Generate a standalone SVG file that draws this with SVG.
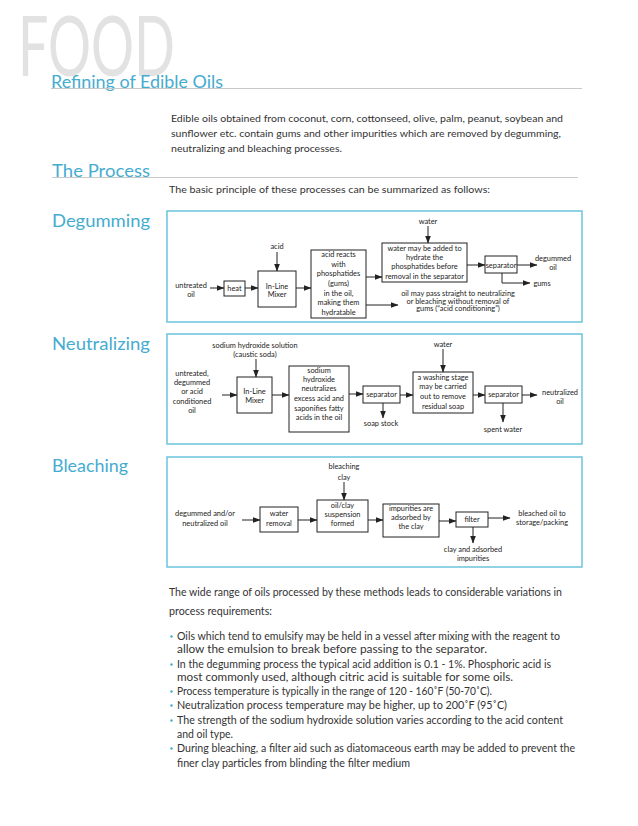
<svg xmlns="http://www.w3.org/2000/svg" width="638" height="826" viewBox="0 0 638 826">
<defs>
<style>
.hd{font-family:Lato,"Open Sans","DejaVu Sans",sans-serif;font-weight:400;fill:#45acd0}
.bd{font-family:Lato,"Open Sans","DejaVu Sans",sans-serif;fill:#333}
.t{font-family:Lato,"Open Sans","DejaVu Sans",sans-serif;font-size:7.4px;fill:#222;text-anchor:middle}
.bx{fill:#fff;stroke:#222;stroke-width:1}
.fr{fill:none;stroke:#6cc3dd;stroke-width:1.5}
.c{fill:none;stroke:#222;stroke-width:1;marker-end:url(#ah)}
.rule{stroke:#c8c8c8;stroke-width:1}
</style>
<marker id="ah" markerWidth="8" markerHeight="6" refX="7.5" refY="3" orient="auto" markerUnits="userSpaceOnUse">
<path d="M0,0 L8,3 L0,6 z" fill="#222"/>
</marker>
</defs>
<rect width="638" height="826" fill="#fff"/>

<text x="18" y="76" font-family="Lato,'Open Sans',sans-serif" font-weight="400" font-size="84" fill="#e2e2e2" textLength="157" lengthAdjust="spacingAndGlyphs">FOOD</text>
<text class="hd" x="51" y="88" font-size="16.5" textLength="172" lengthAdjust="spacingAndGlyphs">Refining of Edible Oils</text>
<line class="rule" x1="51" y1="88.5" x2="582" y2="88.5"/>

<g class="bd" font-size="10.2">
<text x="171" y="122" textLength="392" lengthAdjust="spacingAndGlyphs">Edible oils obtained from coconut, corn, cottonseed, olive, palm, peanut, soybean and</text>
<text x="171" y="137" textLength="390" lengthAdjust="spacingAndGlyphs">sunflower etc. contain gums and other impurities which are removed by degumming,</text>
<text x="171" y="152" textLength="171" lengthAdjust="spacingAndGlyphs">neutralizing and bleaching processes.</text>
</g>

<text class="hd" x="52" y="177" font-size="18" textLength="98" lengthAdjust="spacingAndGlyphs">The Process</text>
<line class="rule" x1="52" y1="177.5" x2="578" y2="177.5"/>
<text class="bd" x="169" y="193" font-size="10.2" textLength="321" lengthAdjust="spacingAndGlyphs">The basic principle of these processes can be summarized as follows:</text>

<text class="hd" x="52" y="227" font-size="18" textLength="98" lengthAdjust="spacingAndGlyphs">Degumming</text>
<text class="hd" x="52" y="350" font-size="18" textLength="98" lengthAdjust="spacingAndGlyphs">Neutralizing</text>
<text class="hd" x="52" y="472" font-size="18" textLength="76" lengthAdjust="spacingAndGlyphs">Bleaching</text>

<rect class="fr" x="167" y="211" width="415" height="111"/>
<rect class="fr" x="167" y="334" width="415" height="110"/>
<rect class="fr" x="167" y="457" width="415" height="110"/>

<g id="degumming">
<g id="d-untreated"><text class="t" x="191" y="288">untreated</text><text class="t" x="191" y="297">oil</text></g>
<g id="d-heat"><rect class="bx" x="224" y="281" width="21" height="15"/><text class="t" x="234.5" y="291">heat</text></g>
<g id="d-acid"><text class="t" x="277" y="249">acid</text></g>
<g id="d-mixer"><rect class="bx" x="258" y="271" width="38" height="36"/><text class="t" x="277" y="288.5">In-Line</text><text class="t" x="277" y="297">Mixer</text></g>
<g id="d-react"><rect class="bx" x="311" y="250" width="55" height="68"/>
<text class="t" x="338.5" y="257">acid reacts</text><text class="t" x="338.5" y="266.5">with</text><text class="t" x="338.5" y="276">phosphatides</text><text class="t" x="338.5" y="286">(gums)</text><text class="t" x="338.5" y="295.5">in the oil,</text><text class="t" x="338.5" y="305">making them</text><text class="t" x="338.5" y="314.5">hydratable</text></g>
<g id="d-water"><text class="t" x="428" y="224">water</text></g>
<g id="d-hydrate"><rect class="bx" x="382" y="243" width="85" height="39"/>
<text class="t" x="424.5" y="250.5">water may be added to</text><text class="t" x="424.5" y="259.5">hydrate the</text><text class="t" x="424.5" y="269">phosphatides before</text><text class="t" x="424.5" y="278.5">removal in the separator</text></g>
<g id="d-sep"><rect class="bx" x="485" y="256" width="32" height="17"/><text class="t" x="501" y="267.5">separator</text></g>
<g id="d-out"><text class="t" x="553" y="260.5">degummed</text><text class="t" x="553" y="269.5">oil</text></g>
<g id="d-gums"><text class="t" x="542" y="285.5">gums</text></g>
<g id="d-note"><text class="t" x="458" y="295.5">oil may pass straight to neutralizing</text><text class="t" x="458" y="303.5">or bleaching without removal of</text><text class="t" x="458" y="311">gums (“acid conditioning”)</text></g>
</g>

<g id="neutralizing">
<g id="n-soda"><text class="t" x="255" y="347.5">sodium hydroxide solution</text><text class="t" x="255" y="356.5">(caustic soda)</text></g>
<g id="n-in"><text class="t" x="192" y="375.5">untreated,</text><text class="t" x="192" y="384.5">degummed</text><text class="t" x="192" y="394">or acid</text><text class="t" x="192" y="403.5">conditioned</text><text class="t" x="192" y="412.5">oil</text></g>
<g id="n-mixer"><rect class="bx" x="237" y="377" width="35" height="36"/><text class="t" x="254.5" y="393.5">In-Line</text><text class="t" x="254.5" y="402.5">Mixer</text></g>
<g id="n-naoh"><rect class="bx" x="289" y="366" width="60" height="66"/>
<text class="t" x="319" y="372.5">sodium</text><text class="t" x="319" y="381.5">hydroxide</text><text class="t" x="319" y="390.5">neutralizes</text><text class="t" x="319" y="400.5">excess acid and</text><text class="t" x="319" y="410.5">saponifies fatty</text><text class="t" x="319" y="419.5">acids in the oil</text></g>
<g id="n-sep1"><rect class="bx" x="363" y="386" width="37" height="17"/><text class="t" x="381.5" y="397">separator</text></g>
<g id="n-soap"><text class="t" x="381" y="425.5">soap stock</text></g>
<g id="n-water"><text class="t" x="443" y="346.5">water</text></g>
<g id="n-wash"><rect class="bx" x="413" y="372" width="60" height="41"/>
<text class="t" x="443" y="379.5">a washing stage</text><text class="t" x="443" y="388.5">may be carried</text><text class="t" x="443" y="398.5">out to remove</text><text class="t" x="443" y="408.5">residual soap</text></g>
<g id="n-sep2"><rect class="bx" x="485" y="386" width="37" height="17"/><text class="t" x="503.5" y="397">separator</text></g>
<g id="n-out"><text class="t" x="560" y="394.5">neutralized</text><text class="t" x="560" y="403.5">oil</text></g>
<g id="n-spent"><text class="t" x="503" y="431.5">spent water</text></g>
</g>

<g id="bleaching">
<g id="b-clay"><text class="t" x="344" y="468.5">bleaching</text><text class="t" x="344" y="479.5">clay</text></g>
<g id="b-in"><text class="t" x="205" y="515.5">degummed and/or</text><text class="t" x="205" y="525.5">neutralized oil</text></g>
<g id="b-water"><rect class="bx" x="260" y="507" width="38" height="25"/><text class="t" x="279" y="515.5">water</text><text class="t" x="279" y="525.5">removal</text></g>
<g id="b-susp"><rect class="bx" x="317" y="500" width="51" height="32"/><text class="t" x="342.5" y="507.5">oil/clay</text><text class="t" x="342.5" y="516.5">suspension</text><text class="t" x="342.5" y="525.5">formed</text></g>
<g id="b-adsorb"><rect class="bx" x="383" y="504" width="56" height="33"/><text class="t" x="411" y="510.5">impurities are</text><text class="t" x="411" y="519.5">adsorbed by</text><text class="t" x="411" y="528.5">the clay</text></g>
<g id="b-filter"><rect class="bx" x="456" y="512" width="32" height="15"/><text class="t" x="472" y="522">filter</text></g>
<g id="b-out"><text class="t" x="542" y="515.5">bleached oil to</text><text class="t" x="542" y="524.5">storage/packing</text></g>
<g id="b-waste"><text class="t" x="473" y="551.5">clay and adsorbed</text><text class="t" x="473" y="560.5">impurities</text></g>
</g>

<g id="connectors">
<path class="c" d="M210,288 H224"/>
<path class="c" d="M245,288 H258"/>
<path class="c" d="M277,252 V271"/>
<path class="c" d="M296,288 H311"/>
<path class="c" d="M366,277 H382"/>
<path class="c" d="M366,305 H398"/>
<path class="c" d="M428,226 V243"/>
<path class="c" d="M467,265 H485"/>
<path class="c" d="M517,265 H537"/>
<path class="c" d="M502,273 V283 H530"/>
<path class="c" d="M256,359 V377"/>
<path class="c" d="M222,395 H237"/>
<path class="c" d="M272,395 H289"/>
<path class="c" d="M349,394 H363"/>
<path class="c" d="M383,403 V418"/>
<path class="c" d="M443,349 V372"/>
<path class="c" d="M400,395 H413"/>
<path class="c" d="M473,395 H485"/>
<path class="c" d="M522,395 H537"/>
<path class="c" d="M503,403 V422"/>
<path class="c" d="M344,482 V500"/>
<path class="c" d="M242,520 H260"/>
<path class="c" d="M298,520 H317"/>
<path class="c" d="M368,520 H383"/>
<path class="c" d="M439,521 H456"/>
<path class="c" d="M488,518 H510"/>
<path class="c" d="M473,527 V543"/>
</g>

<g class="bd" font-size="11">
<text x="169" y="596" textLength="393" lengthAdjust="spacingAndGlyphs">The wide range of oils processed by these methods leads to considerable variations in</text>
<text x="169" y="615" textLength="103" lengthAdjust="spacingAndGlyphs">process requirements:</text>
<text x="177" y="640" textLength="383" lengthAdjust="spacingAndGlyphs">Oils which tend to emulsify may be held in a vessel after mixing with the reagent to</text>
<text x="177" y="653" textLength="310" lengthAdjust="spacingAndGlyphs">allow the emulsion to break before passing to the separator.</text>
<text x="177" y="668" textLength="374" lengthAdjust="spacingAndGlyphs">In the degumming process the typical acid addition is 0.1 - 1%.  Phosphoric acid is</text>
<text x="177" y="681" textLength="336" lengthAdjust="spacingAndGlyphs">most commonly used, although citric acid is suitable for some oils.</text>
<text x="177" y="695" textLength="315" lengthAdjust="spacingAndGlyphs">Process temperature is typically in the range of 120 - 160˚F (50-70˚C).</text>
<text x="177" y="709" textLength="330" lengthAdjust="spacingAndGlyphs">Neutralization process temperature may be higher, up to 200˚F (95˚C)</text>
<text x="177" y="724" textLength="386" lengthAdjust="spacingAndGlyphs">The strength of the sodium hydroxide solution varies according to the acid content</text>
<text x="177" y="738" textLength="56" lengthAdjust="spacingAndGlyphs">and oil type.</text>
<text x="177" y="752" textLength="398" lengthAdjust="spacingAndGlyphs">During bleaching, a filter aid such as diatomaceous earth may be added to prevent the</text>
<text x="177" y="767" textLength="233" lengthAdjust="spacingAndGlyphs">finer clay particles from blinding the filter medium</text>
</g>
<g fill="#45acd0">
<circle cx="171.5" cy="636.5" r="1.2"/>
<circle cx="171.5" cy="664.5" r="1.2"/>
<circle cx="171.5" cy="691.5" r="1.2"/>
<circle cx="171.5" cy="705.5" r="1.2"/>
<circle cx="171.5" cy="720.5" r="1.2"/>
<circle cx="171.5" cy="748.5" r="1.2"/>
</g>
</svg>
